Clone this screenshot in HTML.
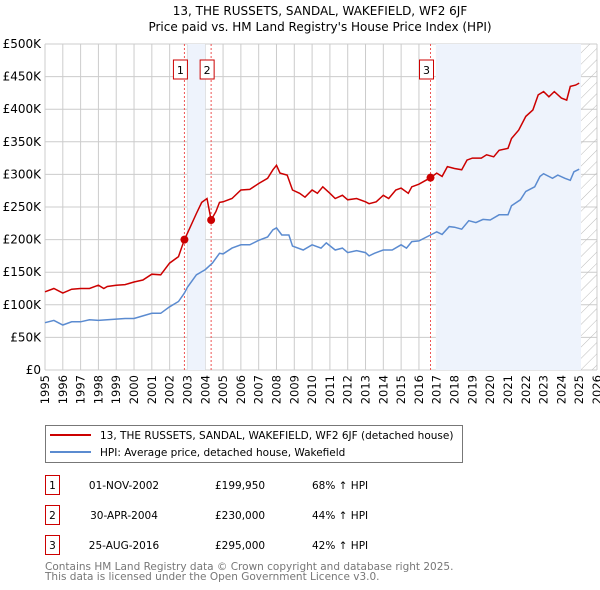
<!DOCTYPE html>
<html><head><meta charset="utf-8"><style>
body{margin:0;background:#fff;font-family:"DejaVu Sans","Liberation Sans",sans-serif;}
svg{display:block}
</style></head><body>
<svg id="chart" width="600" height="590" xmlns="http://www.w3.org/2000/svg" font-family="DejaVu Sans, Liberation Sans, sans-serif">
<text x="320" y="15" text-anchor="middle" font-size="12">13, THE RUSSETS, SANDAL, WAKEFIELD, WF2 6JF</text>
<text x="320" y="31" text-anchor="middle" font-size="12">Price paid vs. HM Land Registry's House Price Index (HPI)</text>
<g id="grid"></g><g id="shade"></g><g id="series"></g><g id="axes"></g>
<g>
<rect x="45.5" y="425.5" width="417" height="37" fill="#fff" stroke="#777"/>
<line x1="50" y1="435" x2="91" y2="435" stroke="#cc0000" stroke-width="2"/>
<text x="100" y="439" font-size="10.5">13, THE RUSSETS, SANDAL, WAKEFIELD, WF2 6JF (detached house)</text>
<line x1="50" y1="452" x2="91" y2="452" stroke="#5b8bd0" stroke-width="2"/>
<text x="100" y="456" font-size="10.5">HPI: Average price, detached house, Wakefield</text>
</g>
<g id="table" font-size="10.5"></g>
<text x="45" y="570" font-size="10.5" fill="#777">Contains HM Land Registry data © Crown copyright and database right 2025.</text>
<text x="45" y="580" font-size="10.5" fill="#777">This data is licensed under the Open Government Licence v3.0.</text>
</svg>
<script>
const redT=[1995,1995.5,1996,1996.5,1997,1997.5,1998,1998.3,1998.5,1999,1999.5,2000,2000.5,2001,2001.5,2002,2002.5,2002.83,2003,2003.5,2003.8,2004.1,2004.33,2004.6,2004.8,2005,2005.5,2006,2006.5,2007,2007.5,2007.8,2008,2008.2,2008.6,2008.9,2009.3,2009.6,2010,2010.3,2010.6,2011,2011.3,2011.7,2012,2012.5,2013,2013.2,2013.6,2014,2014.3,2014.7,2015,2015.4,2015.6,2016,2016.65,2017,2017.3,2017.6,2018,2018.4,2018.7,2019,2019.5,2019.8,2020.2,2020.5,2021,2021.2,2021.6,2022,2022.4,2022.7,2023,2023.3,2023.6,2024,2024.3,2024.5,2024.8,2025];
const redV=[120,125,118,124,125,125,130,125,128,130,131,135,138,147,146,164,174,199.95,210,240,257,263,230,243,257,258,263,276,277,286,294,307,314,302,299,276,271,265,276,271,281,271,263,268,261,263,258,255,258,268,263,276,279,271,281,285,295,302,297,312,309,307,322,325,325,330,327,337,340,355,368,389,399,422,427,419,427,417,414,435,437,440];
const hpiT=[1995,1995.5,1996,1996.5,1997,1997.5,1998,1998.5,1999,1999.5,2000,2000.5,2001,2001.5,2002,2002.5,2002.83,2003,2003.5,2004,2004.4,2004.8,2005,2005.5,2006,2006.5,2007,2007.5,2007.8,2008,2008.3,2008.7,2008.9,2009.5,2010,2010.5,2010.8,2011.3,2011.7,2012,2012.5,2013,2013.2,2013.5,2014,2014.5,2015,2015.3,2015.6,2016,2016.65,2017,2017.3,2017.7,2018,2018.4,2018.8,2019.2,2019.6,2020,2020.5,2021,2021.2,2021.7,2022,2022.5,2022.8,2023,2023.5,2023.8,2024.2,2024.5,2024.7,2025];
const hpiV=[72.6,76,69,74,74,77,76,77,78,79,79,83,87,87,97,105,118,127,146,154,164,179,178,187,192,192,199,204,215,218,207,207,190,184,192,187,195,184,187,180,183,180,175,179,184,184,192,187,197,198,207,212,208,220,219,216,229,226,231,230,238,238,252,261,274,281,297,301,294,299,294,291,304,308];
const saleT=[2002.83,2004.33,2016.65];
const saleV=[199.95,230,295];
const saleLabels=["1","2","3"];
const saleDates=["01-NOV-2002","30-APR-2004","25-AUG-2016"];
const salePrices=["£199,950","£230,000","£295,000"];
const salePct=["68% \u2191 HPI","44% \u2191 HPI","42% \u2191 HPI"];
const yTicks=[0,50,100,150,200,250,300,350,400,450,500];
const yTickLabels=["£0","£50K","£100K","£150K","£200K","£250K","£300K","£350K","£400K","£450K","£500K"];
const xYears=[1995,1996,1997,1998,1999,2000,2001,2002,2003,2004,2005,2006,2007,2008,2009,2010,2011,2012,2013,2014,2015,2016,2017,2018,2019,2020,2021,2022,2023,2024,2025,2026];

const NS="http://www.w3.org/2000/svg";
const L=45,R=597,T=44,B=370;
const x=t=>L+(t-1995)/(2026-1995)*(R-L);
const y=v=>B-v/500*(B-T);
function mk(tag,attrs,parent,text){const e=document.createElementNS(NS,tag);for(const k in attrs)e.setAttribute(k,attrs[k]);if(text!==undefined)e.textContent=text;parent.appendChild(e);return e;}
const grid=document.getElementById('grid'),shade=document.getElementById('shade'),series=document.getElementById('series'),axes=document.getElementById('axes'),table=document.getElementById('table');
let e;
e=mk('rect',{x:L,y:T,width:R-L,height:B-T,fill:'#fff'},grid);


e=mk('rect',{x:x(2003),y:T,width:x(2004)-x(2003),height:B-T,fill:'#eef3fc'},shade);


e=mk('rect',{x:x(2016.95),y:T,width:x(2025.1)-x(2016.95),height:B-T,fill:'#eef3fc'},shade);


const defs=mk('defs',{},shade);
const pat=mk('pattern',{id:'hatch',width:8,height:8,patternUnits:'userSpaceOnUse',patternTransform:'rotate(45)'},defs);
mk('line',{x1:0,y1:0,x2:0,y2:8,stroke:'#bbb','stroke-width':1},pat);
e=mk('rect',{x:x(2025.1),y:T,width:R-x(2025.1),height:B-T,fill:'url(#hatch)'},shade);


xYears.forEach(yr=>{
 e=mk('line',{x1:x(yr),y1:T,x2:x(yr),y2:B,stroke:'#cccccc','stroke-width':1},grid);
 
 
 e=mk('text',{x:0,y:0,'font-size':11.5,'text-anchor':'end',transform:`translate(${x(yr)+4},${B+5}) rotate(-90)`},axes,String(yr));
 
 
});
yTicks.forEach((v,i)=>{
 e=mk('line',{x1:L,y1:y(v),x2:R,y2:y(v),stroke:'#cccccc','stroke-width':1},grid);
 
 
 e=mk('text',{x:L-4,y:y(v)+4,'font-size':12,'text-anchor':'end'},axes,yTickLabels[i]);
 
 
});
saleT.forEach((t,i)=>{
 e=mk('line',{x1:x(t),y1:T,x2:x(t),y2:B,stroke:'#ee5555','stroke-width':1,'stroke-dasharray':'2,2'},series);
 
 
 const g=mk('g',{},series);
 
 
 mk('rect',{x:x(t)-11,y:60,width:14,height:19,fill:'#fff',stroke:'#cc0000'},g);
 mk('text',{x:x(t)-4,y:74,'font-size':11,'text-anchor':'middle'},g,saleLabels[i]);
});
function path(ts,vs){return ts.map((t,i)=>(i?'L':'M')+x(t).toFixed(1)+','+y(vs[i]).toFixed(1)).join(' ');}
e=mk('path',{d:path(hpiT,hpiV),fill:'none',stroke:'#5b8bd0','stroke-width':1.5},series);


e=mk('path',{d:path(redT,redV),fill:'none',stroke:'#cc0000','stroke-width':1.5},series);


saleT.forEach((t,i)=>{
 e=mk('circle',{cx:x(t),cy:y(saleV[i]),r:4,fill:'#cc0000'},series);
 
 
});
saleLabels.forEach((lab,i)=>{
 const yy=475+i*30;
 const g=mk('g',{},table);
 
 
 mk('rect',{x:45.5,y:yy+0.5,width:14,height:19,fill:'#fff',stroke:'#cc0000'},g);
 mk('text',{x:52.5,y:yy+14,'text-anchor':'middle'},g,lab);
 mk('text',{x:124,y:yy+14,'text-anchor':'middle'},g,saleDates[i]);
 mk('text',{x:215,y:yy+14},g,salePrices[i]);
 mk('text',{x:312,y:yy+14},g,salePct[i]);
});
</script>
</body></html>
